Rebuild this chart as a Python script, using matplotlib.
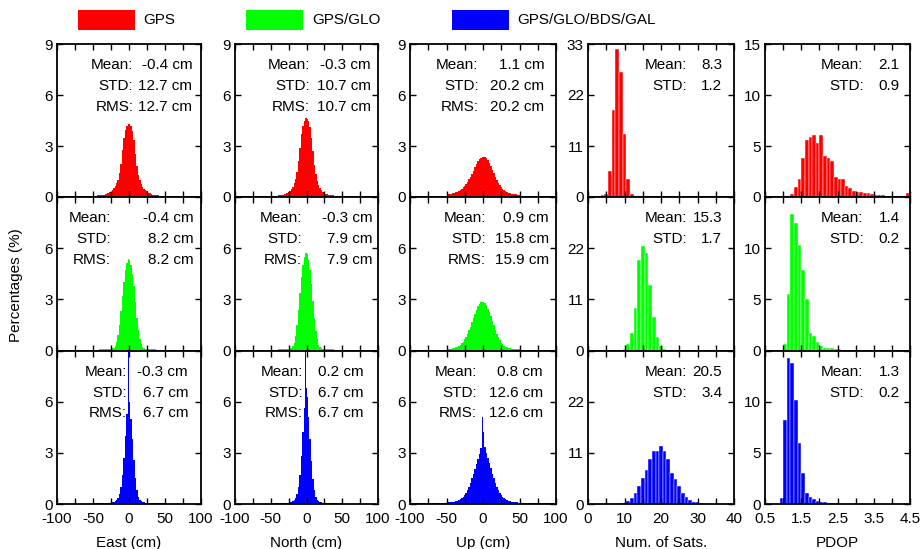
import numpy as np
import matplotlib
matplotlib.use("Agg")
import matplotlib.pyplot as plt
from matplotlib.patches import Rectangle

plt.rcParams['font.family'] = ['Liberation Sans', 'DejaVu Sans']
plt.rcParams['font.size'] = 11

# systems (rows) and colours
systems = ["GPS", "GPS/GLO", "GPS/GLO/BDS/GAL"]
colors = ["#ff0000", "#00ff00", "#0000ff"]

# position errors: percentage per bin, 2 cm bins, centres -49..49 cm
pos_centres = np.arange(-49, 50, 2)
east = [
    [0.07, 0.07, 0.08, 0.09, 0.1, 0.11, 0.12, 0.14, 0.16, 0.19, 0.22, 0.27, 0.32, 0.42, 0.53, 0.66, 0.8, 1.0, 1.4, 1.95, 2.75, 3.5, 3.95, 4.2, 4.32,
     4.3, 4.15, 3.9, 3.35, 2.55, 1.8, 1.3, 0.98, 0.75, 0.6, 0.48, 0.4, 0.33, 0.26, 0.21, 0.17, 0.14, 0.12, 0.11, 0.1, 0.09, 0.08, 0.07, 0.07, 0.06],
    [0.03, 0.03, 0.04, 0.05, 0.06, 0.07, 0.07, 0.08, 0.08, 0.08, 0.08, 0.09, 0.1, 0.12, 0.16, 0.28, 0.5, 0.9, 1.5, 2.3, 3.2, 4.0, 4.7, 5.15, 5.35,
     5.3, 5.0, 4.5, 3.8, 2.85, 1.9, 1.2, 0.7, 0.38, 0.2, 0.13, 0.1, 0.09, 0.08, 0.08, 0.08, 0.07, 0.07, 0.06, 0.05, 0.05, 0.04, 0.04, 0.03, 0.03],
    [0.03, 0.03, 0.03, 0.04, 0.04, 0.04, 0.05, 0.05, 0.05, 0.06, 0.06, 0.07, 0.08, 0.1, 0.12, 0.15, 0.22, 0.35, 0.6, 1.0, 1.7, 2.7, 4.0, 5.3, 6.6,
     6.0, 5.0, 3.8, 2.6, 1.5, 0.8, 0.4, 0.22, 0.15, 0.12, 0.1, 0.08, 0.07, 0.06, 0.06, 0.05, 0.05, 0.04, 0.04, 0.04, 0.03, 0.03, 0.03, 0.03, 0.03],
]
north = [
    [0.06, 0.06, 0.07, 0.07, 0.08, 0.09, 0.1, 0.11, 0.13, 0.15, 0.18, 0.22, 0.27, 0.35, 0.45, 0.6, 0.8, 1.05, 1.5, 2.1, 2.9, 3.7, 4.2, 4.5, 4.62,
     4.6, 4.45, 4.1, 3.5, 2.7, 1.9, 1.35, 0.95, 0.7, 0.52, 0.4, 0.32, 0.25, 0.2, 0.16, 0.13, 0.11, 0.1, 0.09, 0.08, 0.07, 0.07, 0.06, 0.06, 0.05],
    [0.03, 0.03, 0.04, 0.04, 0.05, 0.06, 0.07, 0.07, 0.08, 0.08, 0.08, 0.09, 0.1, 0.12, 0.15, 0.25, 0.45, 0.85, 1.5, 2.4, 3.4, 4.3, 5.0, 5.5, 5.7,
     5.65, 5.3, 4.7, 3.9, 2.9, 1.9, 1.15, 0.65, 0.35, 0.2, 0.13, 0.1, 0.09, 0.08, 0.08, 0.07, 0.07, 0.06, 0.06, 0.05, 0.05, 0.04, 0.04, 0.03, 0.03],
    [0.03, 0.03, 0.03, 0.04, 0.04, 0.04, 0.05, 0.05, 0.05, 0.06, 0.06, 0.07, 0.08, 0.1, 0.12, 0.15, 0.22, 0.35, 0.6, 1.0, 1.7, 2.8, 4.2, 5.6, 6.8,
     6.3, 5.1, 3.8, 2.5, 1.45, 0.8, 0.42, 0.24, 0.16, 0.12, 0.1, 0.08, 0.07, 0.06, 0.06, 0.05, 0.05, 0.04, 0.04, 0.04, 0.03, 0.03, 0.03, 0.03, 0.03],
]
up = [
    [0.17, 0.18, 0.19, 0.2, 0.22, 0.24, 0.27, 0.3, 0.36, 0.43, 0.5, 0.58, 0.66, 0.78, 0.9, 1.05, 1.2, 1.35, 1.55, 1.75, 1.95, 2.1, 2.25, 2.32, 2.38,
     2.38, 2.35, 2.28, 2.15, 2.0, 1.8, 1.6, 1.4, 1.2, 1.02, 0.85, 0.72, 0.6, 0.5, 0.42, 0.35, 0.3, 0.26, 0.22, 0.2, 0.18, 0.17, 0.15, 0.14, 0.13],
    [0.08, 0.09, 0.1, 0.11, 0.13, 0.15, 0.18, 0.22, 0.28, 0.34, 0.42, 0.52, 0.65, 0.8, 0.98, 1.18, 1.4, 1.65, 1.9, 2.15, 2.38, 2.58, 2.72, 2.82, 2.87,
     2.85, 2.78, 2.65, 2.45, 2.25, 2.0, 1.75, 1.48, 1.22, 0.98, 0.78, 0.6, 0.46, 0.36, 0.28, 0.22, 0.18, 0.15, 0.13, 0.11, 0.1, 0.1, 0.09, 0.08, 0.08],
    [0.09, 0.1, 0.1, 0.11, 0.12, 0.14, 0.16, 0.19, 0.23, 0.28, 0.34, 0.42, 0.52, 0.65, 0.82, 1.02, 1.25, 1.5, 1.78, 2.05, 2.35, 2.65, 2.95, 3.3, 3.9,
     4.2, 3.35, 3.0, 2.7, 2.4, 2.1, 1.78, 1.5, 1.25, 1.02, 0.82, 0.65, 0.52, 0.42, 0.34, 0.28, 0.23, 0.19, 0.16, 0.14, 0.12, 0.11, 0.1, 0.09, 0.08],
]
# level of the thin tails beyond +-50 cm
east_tail = [0.05, 0.02, 0.02]
north_tail = [0.05, 0.02, 0.02]
up_tail = [0.08, 0.05, 0.05]
# narrow 1 cm spike at the centre (height, centre), None if absent
east_spike = [None, None, (9.5, -0.5)]
north_spike = [None, None, (9.5, -1.5)]
up_spike = [None, None, (5.1, -0.5)]

# number of satellites, 1-sat bins
sats_gps_x = [4, 5, 6, 7, 8, 9, 10, 11, 12, 13]
sats_gps = [0.4, 0.7, 5.7, 18.8, 31.9, 26.9, 13.5, 3.8, 0.65, 0.2]
sats_glo_x = [9, 10, 11, 12, 13, 14, 15, 16, 17, 18, 19, 20, 21, 22]
sats_glo = [0.1, 0.3, 1.4, 3.7, 9.1, 19.4, 22.4, 20.9, 14.0, 7.3, 2.9, 0.9, 0.3, 0.1]
sats_all_x = list(range(1, 41))
sats_all = [0.05, 0.05, 0.05, 0.05, 0.05, 0.05, 0.05, 0.1, 0.15, 0.3, 0.6, 1.2, 2.4, 3.9, 5.6, 7.4, 9.6, 11.3, 11.4, 12.5,
            11.5, 9.7, 6.7, 5.3, 3.9, 2.4, 1.5, 0.9, 0.5, 0.35, 0.2, 0.1, 0.08, 0.05, 0.05, 0.05, 0.05, 0.05, 0.05, 0.05]

# PDOP, 0.1 bins (left edges)
pdop_gps_x = [1.2, 1.3, 1.4, 1.5, 1.6, 1.7, 1.8, 1.9, 2.0, 2.1, 2.2, 2.3, 2.4, 2.5, 2.6, 2.7, 2.8, 2.9, 3.0, 3.1, 3.2, 3.3, 3.4,
              3.5, 3.6, 3.7, 3.8, 3.9, 4.0, 4.1, 4.2, 4.3, 4.4]
pdop_gps = [0.3, 1.0, 1.8, 3.8, 5.6, 5.9, 6.1, 5.3, 6.1, 4.0, 3.8, 3.5, 2.0, 1.8, 1.8, 1.1, 0.9, 0.6, 0.5, 0.5, 0.4, 0.35, 0.25,
            0.2, 0.15, 0.15, 0.12, 0.12, 0.1, 0.1, 0.1, 0.12, 0.4]
pdop_glo_x = [1.0, 1.1, 1.2, 1.3, 1.4, 1.5, 1.6, 1.7, 1.8, 1.9, 2.0, 2.1, 2.2, 2.3, 2.4, 2.5]
pdop_glo = [0.6, 5.5, 13.3, 12.5, 10.3, 7.9, 5.0, 1.7, 1.4, 0.8, 0.4, 0.25, 0.2, 0.2, 0.15, 0.15]
pdop_all_x = [0.9, 1.0, 1.1, 1.2, 1.3, 1.4, 1.5, 1.6, 1.7, 1.8, 1.9, 2.0, 2.1, 2.2, 2.3, 2.4]
pdop_all = [0.6, 8.2, 14.3, 13.8, 10.2, 6.0, 3.0, 1.1, 0.7, 0.45, 0.3, 0.2, 0.15, 0.1, 0.1, 0.1]

# statistics text
east_stats = [["-0.4 cm", "12.7 cm", "12.7 cm"], ["-0.4 cm", "8.2 cm", "8.2 cm"], ["-0.3 cm", "6.7 cm", "6.7 cm"]]
north_stats = [["-0.3 cm", "10.7 cm", "10.7 cm"], ["-0.3 cm", "7.9 cm", "7.9 cm"], ["0.2 cm", "6.7 cm", "6.7 cm"]]
up_stats = [["1.1 cm", "20.2 cm", "20.2 cm"], ["0.9 cm", "15.8 cm", "15.9 cm"], ["0.8 cm", "12.6 cm", "12.6 cm"]]
sats_stats = [["8.3", "1.2"], ["15.3", "1.7"], ["20.5", "3.4"]]
pdop_stats = [["2.1", "0.9"], ["1.4", "0.2"], ["1.3", "0.2"]]
stat_names = ["Mean:", "STD:", "RMS:"]

xlabels = ["East (cm)", "North (cm)", "Up (cm)", "Num. of Sats.", "PDOP"]

W, H = 924, 549
fig = plt.figure(figsize=(W / 100, H / 100), dpi=100)

col_px = [(57, 201), (235, 378), (410, 556), (588, 734), (765, 910)]
row_px = [(44, 197), (197, 350.5), (350.5, 504)]
# text anchor (colon x, value right x) per row/col in axes fraction
txt_pos = [
    [(0.53, 0.94), (0.525, 0.95), (0.47, 0.92), (0.68, 0.92), (0.68, 0.93)],
    [(0.375, 0.95), (0.47, 0.96), (0.52, 0.95), (0.68, 0.92), (0.68, 0.93)],
    [(0.486, 0.91), (0.475, 0.90), (0.46, 0.91), (0.68, 0.92), (0.68, 0.93)],
]

pos_sets = [(east, east_tail, east_spike, east_stats),
            (north, north_tail, north_spike, north_stats),
            (up, up_tail, up_spike, up_stats)]
sats_sets = [(sats_gps_x, sats_gps), (sats_glo_x, sats_glo), (sats_all_x, sats_all)]
pdop_sets = [(pdop_gps_x, pdop_gps), (pdop_glo_x, pdop_glo), (pdop_all_x, pdop_all)]

for r in range(3):
    for c in range(5):
        x0, x1 = col_px[c]
        y0, y1 = row_px[r]
        ax = fig.add_axes([x0 / W, 1 - y1 / H, (x1 - x0) / W, (y1 - y0) / H])
        col = colors[r]
        if c < 3:
            vals, tail, spike, stats = pos_sets[c]
            edges = np.arange(-100, 101, 2)
            full = np.concatenate([np.full(25, tail[r]), vals[r], np.full(25, tail[r])])
            ax.stairs(full, edges, fill=True, color=col, linewidth=0)
            if spike[r] is not None:
                ax.bar(spike[r][1], spike[r][0], width=1.0, color=col, linewidth=0)
            ax.set_xlim(-100, 100)
            ax.set_ylim(0, 9)
            ax.set_xticks(np.arange(-100, 101, 25))
            ax.set_xticklabels(["-100", "", "-50", "", "0", "", "50", "", "100"])
            yt = [0, 3, 6, 9]
            lines = list(zip(stat_names, stats[r]))
        elif c == 3:
            xs, vs = sats_sets[r]
            ax.bar(xs, vs, width=1.0, color=col, edgecolor="white", linewidth=0.3)
            ax.set_xlim(0, 40)
            ax.set_ylim(0, 33)
            ax.set_xticks(np.arange(0, 41, 5))
            ax.set_xticklabels(["0", "", "10", "", "20", "", "30", "", "40"])
            yt = [0, 11, 22, 33]
            lines = list(zip(stat_names[:2], sats_stats[r]))
        else:
            xs, vs = pdop_sets[r]
            ax.bar(xs, vs, width=0.1, align="edge", color=col, edgecolor="white", linewidth=0.3)
            ax.set_xlim(0.5, 4.5)
            ax.set_ylim(0, 15)
            ax.set_xticks(np.arange(0.5, 4.51, 0.5))
            ax.set_xticklabels(["0.5", "", "1.5", "", "2.5", "", "3.5", "", "4.5"])
            yt = [0, 5, 10, 15]
            lines = list(zip(stat_names[:2], pdop_stats[r]))

        ax.set_yticks(yt)
        ax.set_yticklabels([str(v) for v in yt[:-1]] + ([str(yt[-1])] if r == 0 else [""]))
        ax.tick_params(direction="in", top=True, right=True, length=4, width=1,
                       labelsize=11)
        ax.tick_params(axis="y", pad=3)
        ax.tick_params(axis="x", pad=6)
        if r < 2:
            ax.tick_params(labelbottom=False)
        else:
            ax.set_xlabel(xlabels[c], fontsize=11, labelpad=7)
        for s in ax.spines.values():
            s.set_linewidth(1.3)

        cx, vx = txt_pos[r][c]
        for i, (name, val) in enumerate(lines):
            yy = 0.86 - 0.135 * i
            ax.text(cx, yy, name, transform=ax.transAxes, ha="right", va="center", fontsize=11)
            ax.text(vx, yy, val, transform=ax.transAxes, ha="right", va="center", fontsize=11)

fig.text(16 / W, 0.48, "Percentages (%)", rotation=90, ha="center", va="center", fontsize=11)

# legend at top
leg_px = [(78, 143), (246, 312), (452, 517)]
for (px, tx), name, col in zip(leg_px, systems, colors):
    fig.add_artist(Rectangle((px / W, 1 - 30 / H), 57 / W, 20 / H, transform=fig.transFigure,
                             facecolor=col, edgecolor="none"))
    fig.text(tx / W, 1 - 20 / H, name, ha="left", va="center", fontsize=11)

fig.savefig("out.png", dpi=100)
